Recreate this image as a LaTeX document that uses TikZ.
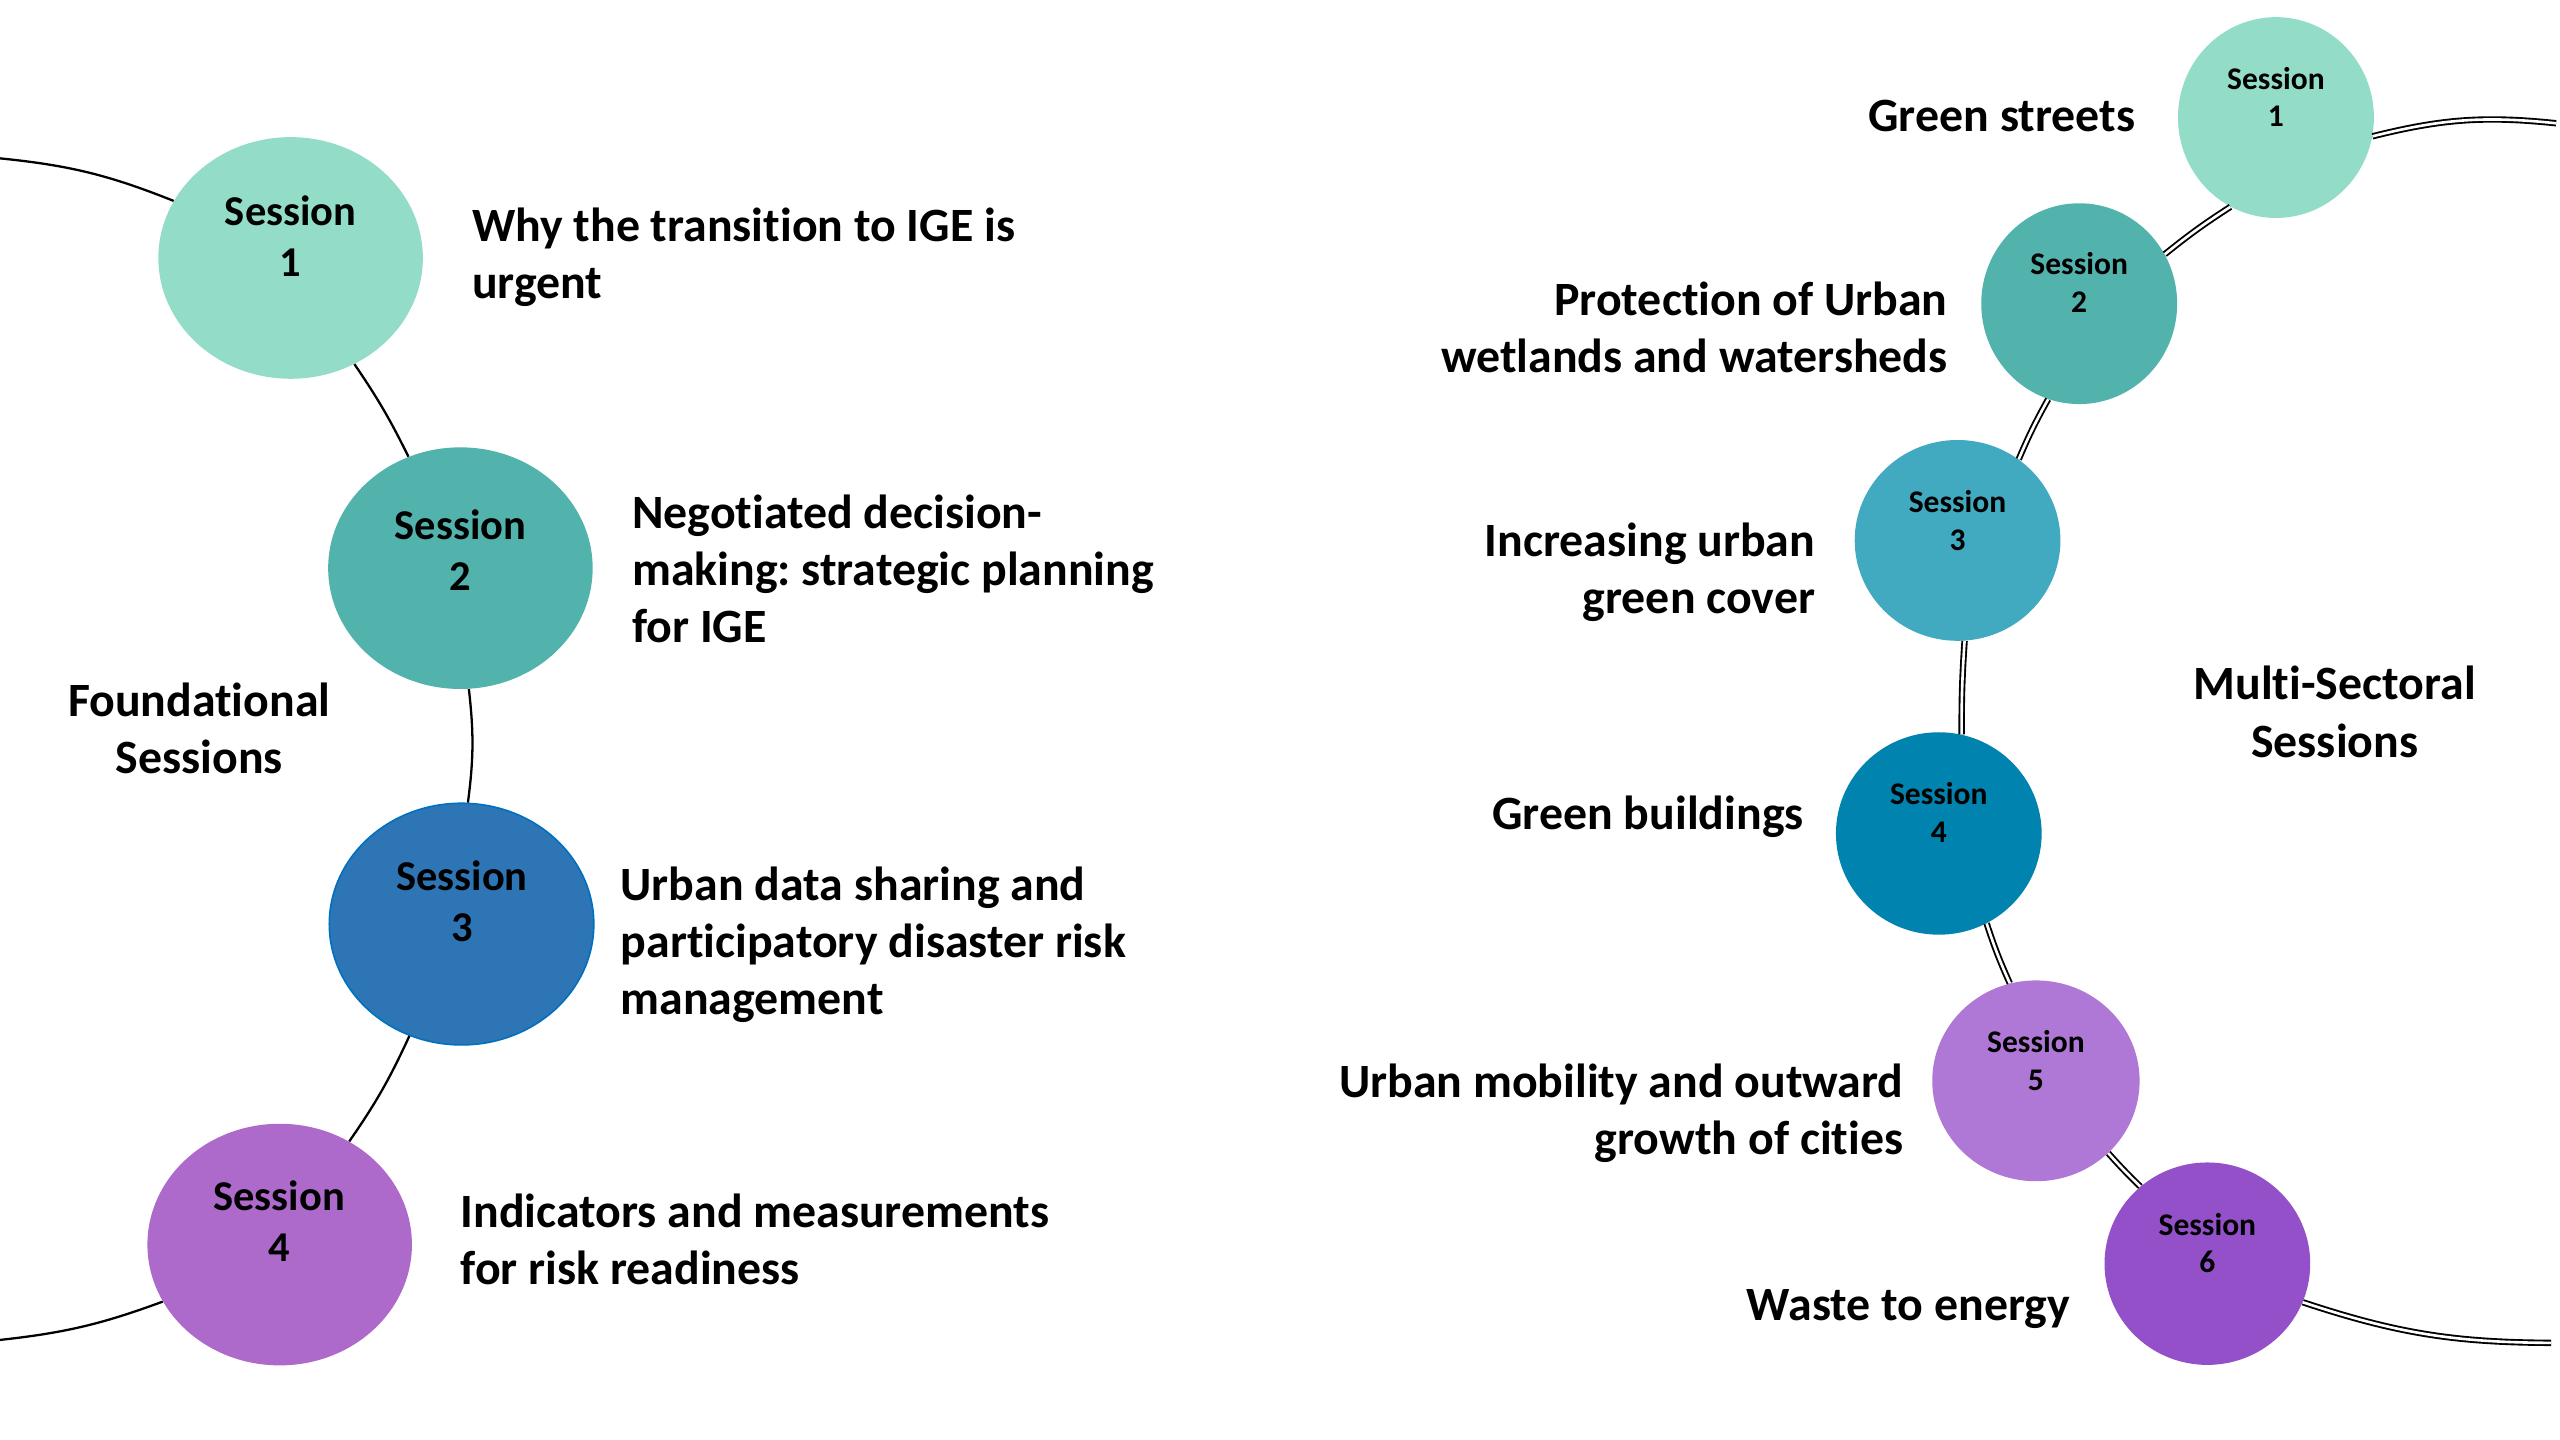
\documentclass[tikz,border=0pt]{standalone}
\usepackage{fontspec}
\setmainfont{Carlito}[Ligatures={NoCommon,NoRare,NoContextual}]
\frenchspacing
\usetikzlibrary{shapes.geometric}
\definecolor{cA}{HTML}{93DCC8}
\definecolor{cB}{HTML}{52B3AD}
\definecolor{cC}{HTML}{2E75B6}
\definecolor{cCb}{HTML}{0070C0}
\definecolor{cD}{HTML}{AD6ACB}
\definecolor{rC}{HTML}{41A9C0}
\definecolor{rD}{HTML}{0083AE}
\definecolor{rE}{HTML}{AF78D7}
\definecolor{rF}{HTML}{9450C9}
\tikzset{
  bigsess/.style={ellipse, inner sep=0pt, minimum width=162pt, minimum height=148pt},
  smallsess/.style={ellipse, inner sep=0pt},
  biglbl/.style={align=center, font=\fontsize{26}{31}\selectfont\bfseries, inner sep=0pt},
  smalllbl/.style={align=center, font=\fontsize{19.3}{23}\selectfont\bfseries, inner sep=0pt},
  desc/.style={font=\fontsize{29.3}{35}\selectfont\bfseries, inner sep=0pt},
  lconn/.style={draw=black, line width=1.4pt},
  rconn/.style={draw=black, line width=1.15pt, double=white, double distance=1.6pt},
}
\begin{document}
\begin{tikzpicture}[x=1pt,y=-1pt]
\useasboundingbox[fill=white] (0,0) rectangle (1568,882);

% ---------- left side ----------
\coordinate (sL) at (0,97);
\coordinate (eL) at (0,820.7);
\node[bigsess, fill=cA] (L1) at (178,158) {};
\node[bigsess, fill=cB] (L2) at (282,348) {};
\node[bigsess, fill=cC, draw=cCb, line width=1pt] (L3) at (282.7,566) {};
\node[bigsess, fill=cD] (L4) at (171.3,762.3) {};
\draw[lconn] (sL) to[bend left=8] (L1.154.6);
\draw[lconn] (L1.-59.2) to[bend left=4] (L2.115.6);
\draw[lconn] (L2.-86.5) to[bend left=7] (L3.87.6);
\draw[lconn] (L3.-115) to[bend left=5] (L4.56.3);
\draw[lconn] (L4.-154.2) to[bend left=7] (eL);

\node[biglbl] (L1t) at (178,144.5) {Session\\1};
\node[biglbl] (L2t) at (282,337) {Session\\2};
\node[biglbl] (L3t) at (283,552) {Session\\3};
\node[biglbl] (L4t) at (171,748) {Session\\4};

\node[desc, anchor=west, align=left] (D1) at (289,157.5) {Why the transition to IGE is\\urgent};
\node[desc, anchor=west, align=left] (D2) at (387,348.5) {Negotiated decision-\\making: strategic planning\\for IGE};
\node[desc, anchor=west, align=left] (D3) at (380,578.5) {Urban data sharing and\\participatory disaster risk\\management};
\node[desc, anchor=west, align=left] (D4) at (282,759) {Indicators and measurements\\for risk readiness};
\node[desc, align=center] (FS) at (122,446) {Foundational\\Sessions};

% ---------- right side ----------
\coordinate (sR) at (1565.6,75.5);
\coordinate (eR) at (1562.6,822.5);
\node[smallsess, fill=cA, minimum width=120pt, minimum height=123pt] (R1) at (1394,72) {};
\node[smallsess, fill=cB, minimum width=120pt, minimum height=123pt] (R2) at (1273.5,186) {};
\node[smallsess, fill=rC, minimum width=126pt, minimum height=123pt] (R3) at (1199,331) {};
\node[smallsess, fill=rD, minimum width=126pt, minimum height=124pt] (R4) at (1187.5,510.5) {};
\node[smallsess, fill=rE, minimum width=127pt, minimum height=123pt] (R5) at (1247,662) {};
\node[smallsess, fill=rF, minimum width=126pt, minimum height=124pt] (R6) at (1352,774) {};
\draw[rconn] (R1.-11) to[bend left=10] (sR);
\draw[rconn] (R1.-117.8) to[bend right=3] (R2.30.7);
\draw[rconn] (R2.-108.5) to[bend right=3] (R3.53.8);
\draw[rconn] (R3.-86) to[bend right=2] (R4.77.7);
\draw[rconn] (R4.-62.8) to[bend right=3] (R5.105);
\draw[rconn] (R5.-45.7) to[bend right=2] (R6.131.9);
\draw[rconn] (R6.-22) to[bend right=9] (eR);

\node[smalllbl] (R1t) at (1394,59.5) {Session\\1};
\node[smalllbl] (R2t) at (1273.5,173) {Session\\2};
\node[smalllbl] (R3t) at (1199,319) {Session\\3};
\node[smalllbl] (R4t) at (1187.5,497.5) {Session\\4};
\node[smalllbl] (R5t) at (1247,649.5) {Session\\5};
\node[smalllbl] (R6t) at (1352,761.5) {Session\\6};

\node[desc, anchor=east, align=right] (E1) at (1308,71) {Green streets};
\node[desc, anchor=east, align=right] (E2) at (1193,200.5) {Protection of Urban\\wetlands and watersheds};
\node[desc, anchor=east, align=right] (E3) at (1112,350.5) {Increasing urban\\green cover};
\node[desc, anchor=east, align=right] (E4) at (1105,500) {Green buildings};
\node[desc, anchor=east, align=right] (E5) at (1166,682) {Urban mobility and outward\\growth of cities};
\node[desc, anchor=east, align=right] (E6) at (1268,802) {Waste to energy};
\node[desc, align=center] (MS) at (1430,436) {Multi-Sectoral\\Sessions};
\end{tikzpicture}
\end{document}
